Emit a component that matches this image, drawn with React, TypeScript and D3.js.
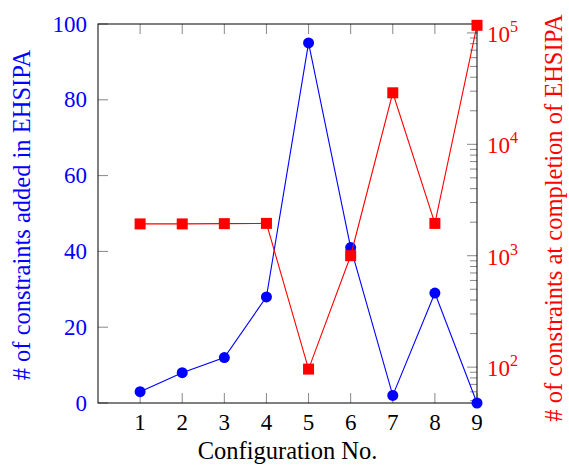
import React from "react";
import * as d3 from "d3";

// data
const configs = [1, 2, 3, 4, 5, 6, 7, 8, 9];
const constraintsAdded = [3, 8, 12, 28, 95, 41, 2, 29, 0];
const constraintsAtCompletion = [1930, 1930, 1940, 1950, 96, 1000, 29000, 1950, 117000];
const xTicks = [1, 2, 3, 4, 5, 6, 7, 8, 9];
const leftTicks = [0, 20, 40, 60, 80, 100];
const rightMajor = [2, 3, 4, 5];

const W = 569;
const H = 468;
const margin = { left: 98, right: 92, top: 24, bottom: 65 };
const font = "'Liberation Serif', 'Times New Roman', serif";
const fs = 23;
const labelFs = 24.5;

const App = () => {
  const x = d3.scaleLinear().domain([0, 9]).range([margin.left, W - margin.right]);
  const yL = d3.scaleLinear().domain([0, 100]).range([H - margin.bottom, margin.top]);
  const yR = d3
    .scaleLog()
    .domain([Math.pow(10, 1.678), Math.pow(10, 5.08)])
    .range([H - margin.bottom, margin.top]);

  const x0 = x.range()[0];
  const x1 = x.range()[1];
  const y0 = yL.range()[0];
  const y1 = yL.range()[1];

  const blueLine = d3
    .line<number>()
    .x((_, i) => x(configs[i]))
    .y((d) => yL(d));
  const redLine = d3
    .line<number>()
    .x((_, i) => x(configs[i]))
    .y((d) => yR(d));

  // minor ticks of the log axis (2..9 x 10^k)
  const logTicks = yR.ticks().filter((v) => {
    const l = Math.log10(v);
    return Math.abs(l - Math.round(l)) > 1e-6;
  });

  return (
    <svg
      width={W}
      height={H}
      style={{ position: "absolute", left: 0, top: 0, background: "#fff" }}
      fontFamily={font}
    >
      {/* x ticks bottom + top */}
      {xTicks.map((t) => (
        <g key={"x" + t}>
          <line x1={x(t)} x2={x(t)} y1={y0} y2={y0 - 10} stroke="#888" />
          <line x1={x(t)} x2={x(t)} y1={y1} y2={y1 + 10} stroke="#888" />
          <text x={x(t)} y={430} textAnchor="middle" fontSize={fs} fill="#000">
            {t}
          </text>
        </g>
      ))}
      {/* left ticks */}
      {leftTicks.map((t) => (
        <g key={"l" + t}>
          <line x1={x0} x2={x0 + 10} y1={yL(t)} y2={yL(t)} stroke="#888" />
          <text x={87} y={yL(t) + 7.5} textAnchor="end" fontSize={fs} fill="#0000ff">
            {t}
          </text>
        </g>
      ))}
      {/* right log ticks */}
      {logTicks.map((t, i) => (
        <line key={"m" + i} x1={x1} x2={x1 - 7} y1={yR(t)} y2={yR(t)} stroke="#888" />
      ))}
      {rightMajor.map((e) => {
        const yy = yR(Math.pow(10, e));
        return (
          <g key={"r" + e}>
            <line x1={x1} x2={x1 - 10} y1={yy} y2={yy} stroke="#888" />
            <text x={487} y={yy + 9} fontSize={fs} fill="#ff0000">
              10
              <tspan dy={-10} fontSize={16}>
                {e}
              </tspan>
            </text>
          </g>
        );
      })}
      {/* frame */}
      <rect x={x0} y={y1} width={x1 - x0} height={y0 - y1} fill="none" stroke="#000" strokeWidth={1} />

      {/* blue series */}
      <path d={blueLine(constraintsAdded) || ""} fill="none" stroke="#0000ff" strokeWidth={1.1} />
      {constraintsAdded.map((d, i) => (
        <circle key={"b" + i} cx={x(configs[i])} cy={yL(d)} r={5.5} fill="#0000ff" />
      ))}
      {/* red series */}
      <path d={redLine(constraintsAtCompletion) || ""} fill="none" stroke="#ff0000" strokeWidth={1.1} />
      {constraintsAtCompletion.map((d, i) => (
        <rect
          key={"s" + i}
          x={x(configs[i]) - 5.5}
          y={yR(d) - 5.5}
          width={11}
          height={11}
          fill="#ff0000"
        />
      ))}

      {/* axis labels */}
      <text x={287.5} y={459} textAnchor="middle" fontSize={labelFs} fill="#000">
        Configuration No.
      </text>
      <text
        transform={`translate(30,215) rotate(-90)`}
        textAnchor="middle"
        fontSize={labelFs}
        fill="#0000ff"
      >
        # of constraints added in EHSIPA
      </text>
      <text
        transform={`translate(562,218) rotate(-90)`}
        textAnchor="middle"
        fontSize={labelFs}
        fill="#ff0000"
      >
        # of constraints at completion of EHSIPA
      </text>
    </svg>
  );
};

export default App;
